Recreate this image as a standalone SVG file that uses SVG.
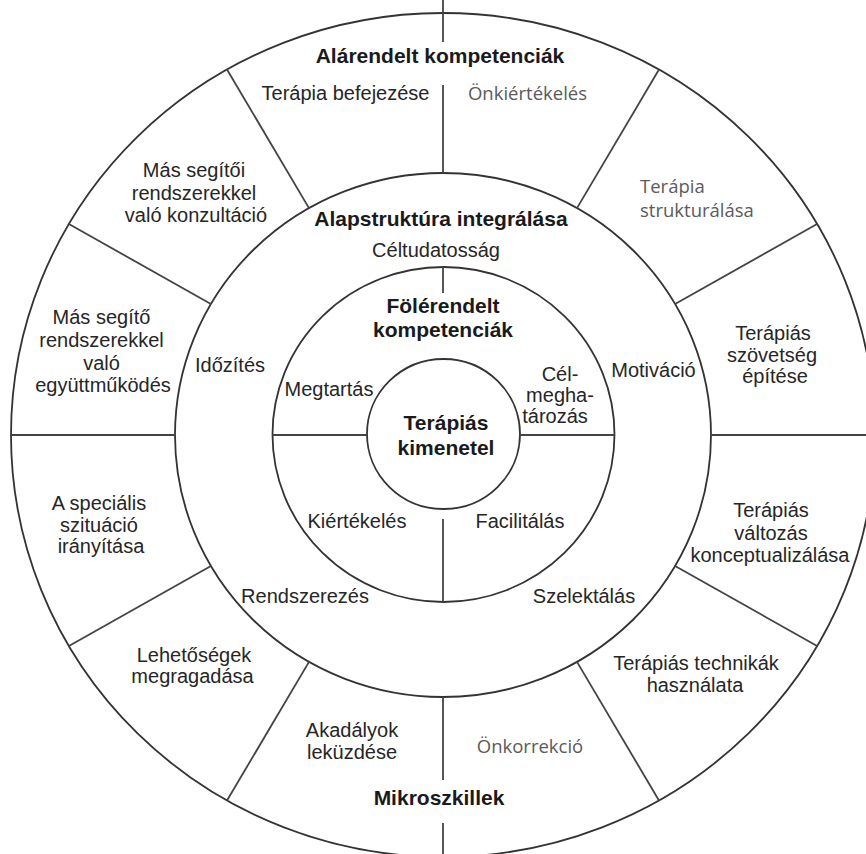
<svg xmlns="http://www.w3.org/2000/svg" width="866" height="854" viewBox="0 0 866 854">
<style>
.ring{fill:none;stroke:#333;stroke-width:1.8}
.div{stroke:#444;stroke-width:1.8;fill:none}
.t{font-family:"Liberation Sans",Arial,sans-serif;font-size:20px;fill:#262626;text-anchor:middle}
.g{font-family:"Open Sans","Liberation Sans",sans-serif;font-size:18.5px;fill:#5a5a5a;text-anchor:middle}
.b{font-family:"Liberation Sans",Arial,sans-serif;font-size:21px;font-weight:bold;fill:#1a1a1a;text-anchor:middle}
</style>
<rect width="866" height="854" fill="#fff"/>
<g id="rings">
<ellipse id="outer-ring" class="ring" cx="443" cy="435" rx="432" ry="422"/>
<ellipse id="middle-ring" class="ring" cx="443" cy="435" rx="268" ry="262"/>
<ellipse id="inner-ring" class="ring" cx="443.5" cy="434.5" rx="171" ry="167.5"/>
<ellipse id="core-ring" class="ring" cx="443.5" cy="434" rx="76.5" ry="75"/>
</g>
<g id="connectors">
<line class="div" x1="443" y1="0" x2="443" y2="42"/>
<line class="div" x1="443" y1="85" x2="443" y2="173"/>
<line class="div" x1="443" y1="697" x2="443" y2="780"/>
<line class="div" x1="443" y1="823" x2="443" y2="854"/>
<line class="div" x1="443" y1="267" x2="443" y2="293"/>
<line class="div" x1="443" y1="519" x2="443" y2="602"/>
<line class="div" x1="11" y1="435" x2="175" y2="435"/>
<line class="div" x1="711" y1="435" x2="866" y2="435"/>
<line class="div" x1="272.5" y1="435" x2="367" y2="435"/>
<line class="div" x1="520" y1="435" x2="614.5" y2="435"/>
<line class="div" x1="817.1" y1="224" x2="675.1" y2="304"/>
<line class="div" x1="659" y1="69.5" x2="577" y2="208.1"/>
<line class="div" x1="227" y1="69.5" x2="309" y2="208.1"/>
<line class="div" x1="68.9" y1="224" x2="210.9" y2="304"/>
<line class="div" x1="68.9" y1="646" x2="210.9" y2="566"/>
<line class="div" x1="227" y1="800.5" x2="309" y2="661.9"/>
<line class="div" x1="659" y1="800.5" x2="577" y2="661.9"/>
<line class="div" x1="817.1" y1="646" x2="675.1" y2="566"/>
</g>
<g id="outer-title"><text class="b" x="440" y="63">Alárendelt kompetenciák</text></g>
<g id="terapia-befejezese"><text class="t" x="345.5" y="100">Terápia befejezése</text></g>
<g id="onkiertekeles"><text class="g" x="527.5" y="100">Önkiértékelés</text></g>
<g id="terapia-strukturalasa"><text class="g" style="text-anchor:start" x="640" y="193">Terápia</text><text class="g" style="text-anchor:start" x="640" y="217">strukturálása</text></g>
<g id="konzultacio"><text class="t" x="194" y="177">Más segítői</text><text class="t" x="194" y="200">rendszerekkel</text><text class="t" x="196" y="222">való konzultáció</text></g>
<g id="middle-title"><text class="b" x="441" y="226">Alapstruktúra integrálása</text></g>
<g id="celtudatossag"><text class="t" x="436" y="257">Céltudatosság</text></g>
<g id="inner-title"><text class="b" x="443" y="313">Fölérendelt</text><text class="b" x="443" y="337">kompetenciák</text></g>
<g id="egyuttmukodes"><text class="t" x="101.5" y="324">Más segítő</text><text class="t" x="101.5" y="347">rendszerekkel</text><text class="t" x="101.5" y="370">való</text><text class="t" x="103" y="392">együttműködés</text></g>
<g id="idozites"><text class="t" x="230" y="372">Időzítés</text></g>
<g id="megtartas"><text class="t" x="329" y="396">Megtartás</text></g>
<g id="celmeghatarozas"><text class="t" x="560" y="381">Cél-</text><text class="t" x="560" y="402">megha-</text><text class="t" x="555" y="423">tározás</text></g>
<g id="motivacio"><text class="t" x="653.5" y="377">Motiváció</text></g>
<g id="szovetseg"><text class="t" x="773" y="340">Terápiás</text><text class="t" x="772" y="362">szövetség</text><text class="t" x="775" y="383">építése</text></g>
<g id="core"><text class="b" x="446" y="430">Terápiás</text><text class="b" x="446" y="455">kimenetel</text></g>
<g id="kiertekeles"><text class="t" x="357" y="528">Kiértékelés</text></g>
<g id="facilitalas"><text class="t" x="520" y="528">Facilitálás</text></g>
<g id="specialis"><text class="t" x="99" y="510">A speciális</text><text class="t" x="99" y="532">szituáció</text><text class="t" x="101" y="553">irányítása</text></g>
<g id="konceptualizalas"><text class="t" x="771" y="517">Terápiás</text><text class="t" x="771" y="540">változás</text><text class="t" x="770" y="562">konceptualizálása</text></g>
<g id="rendszerezes"><text class="t" x="305" y="603">Rendszerezés</text></g>
<g id="szelektalas"><text class="t" x="584" y="603">Szelektálás</text></g>
<g id="lehetosegek"><text class="t" x="194" y="662">Lehetőségek</text><text class="t" x="192.5" y="683">megragadása</text></g>
<g id="technikak"><text class="t" x="696" y="670">Terápiás technikák</text><text class="t" x="695" y="692">használata</text></g>
<g id="akadalyok"><text class="t" x="352" y="737">Akadályok</text><text class="t" x="352" y="759">leküzdése</text></g>
<g id="onkorrekcio"><text class="g" x="530" y="753">Önkorrekció</text></g>
<g id="mikroszkillek"><text class="b" x="439" y="805">Mikroszkillek</text></g>
</svg>
